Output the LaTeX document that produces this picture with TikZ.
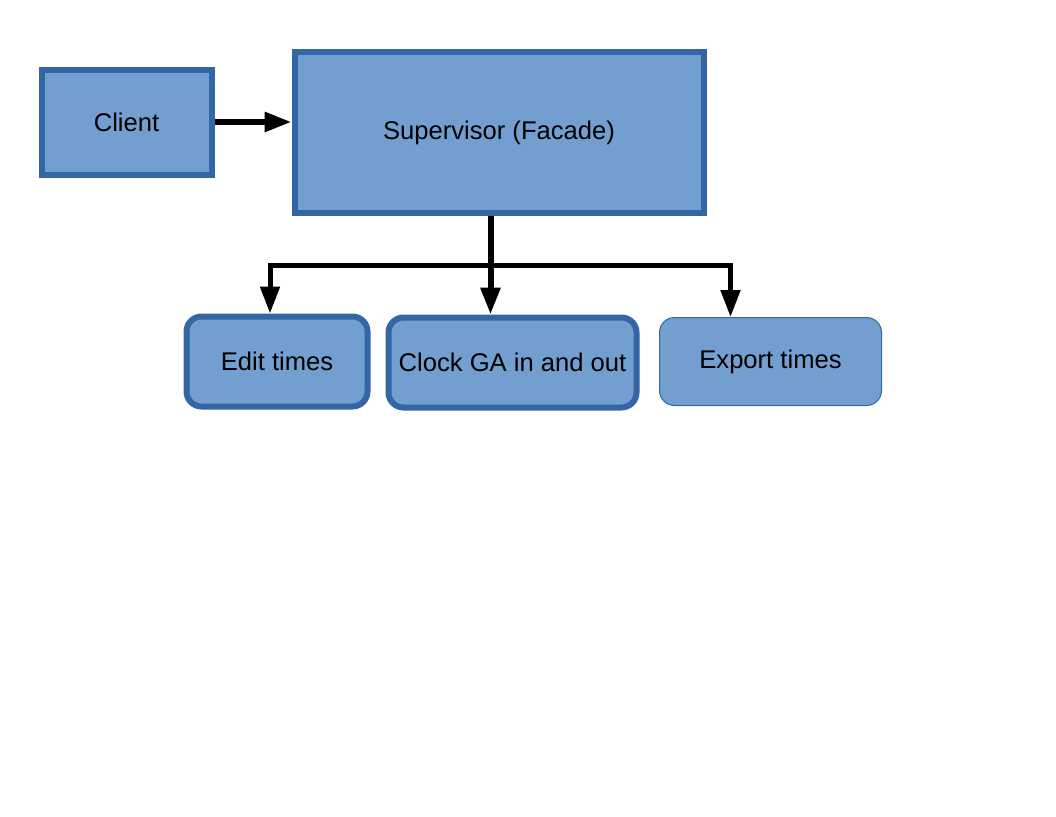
\documentclass[tikz,border=0pt]{standalone}
\usepackage{fontspec}
\setmainfont{Liberation Sans}
\usetikzlibrary{arrows.meta}

\definecolor{boxfill}{HTML}{729FCF}
\definecolor{boxline}{HTML}{3465A4}

\tikzset{
  block/.style={draw=boxline, fill=boxfill, line width=6pt, inner sep=0pt,
    font=\fontsize{25.6}{30}\selectfont},
  task/.style={block, rounded corners=15pt},
  arr/.style={-{Triangle[length=27pt,width=19pt]}, line width=6pt}
}

\begin{document}
\begin{tikzpicture}[x=1pt,y=-1pt]
    \useasboundingbox (0,0) rectangle (1056,816);
    % top row
    \node[block, minimum width=170pt, minimum height=105pt] at (126.5,122) (client) {Client};
    \node[block, minimum width=409pt, minimum height=160pt] at (499,132.5) (supervisor) {Supervisor (Facade)};
    % bottom row
    \node[task, minimum width=181pt, minimum height=90pt] at (277,361.5) (edit) {Edit times};
    \node[task, minimum width=248pt, minimum height=90pt] at (512.5,362.5) (clock) {Clock GA in and out};
    \node[task, line width=1pt, minimum width=222pt, minimum height=88pt] at (770.5,361.5) (export) {Export times};
    \coordinate (split) at (490.5,265);
    % connectors
    \draw[arr] (client) -- (supervisor.west |- client);
    \draw[arr] (supervisor.south -| split) -- (clock.north -| split);
    \draw[arr, line width=5pt] (split) -| ([xshift=-7pt]edit.north);
    \draw[arr, line width=5pt] (split) -| ([xshift=-40pt]export.north);
\end{tikzpicture}
\end{document}
